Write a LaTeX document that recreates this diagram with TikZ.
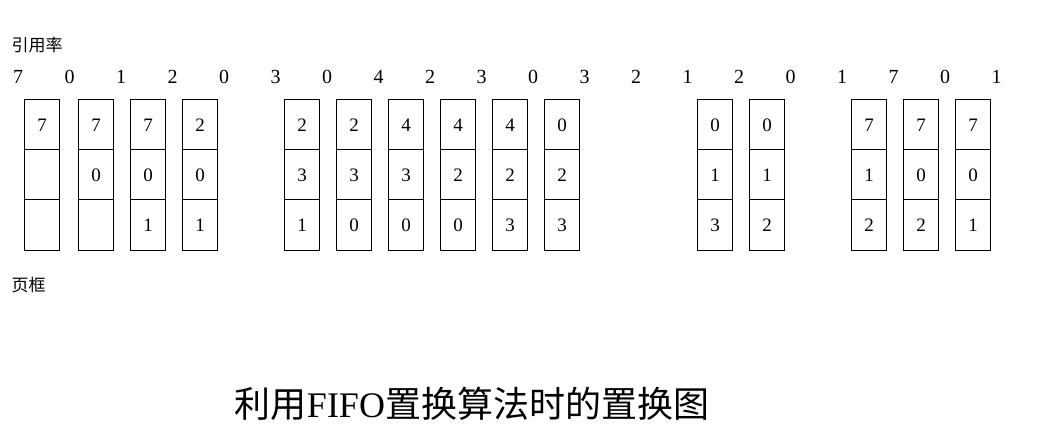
\documentclass[tikz,border=0pt]{standalone}
\usepackage{fontspec}
\newfontfamily\cjk{Noto Sans CJK SC}
\newfontfamily\tnr{Liberation Serif}
\begin{document}
\begin{tikzpicture}[x=1pt,y=-1pt,
  cell/.style={draw,line width=1pt,minimum width=35pt,minimum height=50pt,inner sep=0pt,font=\tnr\fontsize{19}{19}\selectfont},
  ref/.style={font=\tnr\fontsize{20}{20}\selectfont,inner sep=0pt}]
\useasboundingbox (0,0) rectangle (1059,438);
\node[anchor=west,font=\cjk\fontsize{17}{17}\selectfont] (lbl1) at (8,45) {引用率};
\node[anchor=west,font=\cjk\fontsize{17}{17}\selectfont] (lbl2) at (8,285) {页框};
\foreach \v [count=\i] in {7,0,1,2,0,3,0,4,2,3,0,3,2,1,2,0,1,7,0,1}
  \node[ref] (r\i) at ({18+51.5*(\i-1)},77) {\v};
\foreach \x/\a/\b/\c [count=\j] in {42/7//,96/7/0/,148/7/0/1,200/2/0/1,302/2/3/1,354/2/3/0,406/4/3/0,458/4/2/0,510/4/2/3,562/0/2/3,715/0/1/3,767/0/1/2,869/7/1/2,921/7/0/2,973/7/0/1}{
  \node[cell] (c\j a) at (\x,125) {\a};
  \node[cell] (c\j b) at (\x,175) {\b};
  \node[cell] (c\j c) at (\x,225) {\c};
}
\node[font=\fontsize{36}{36}\selectfont] (title) at (472,404) {\cjk 利用\tnr FIFO\cjk 置换算法时的置换图};
\end{tikzpicture}
\end{document}
